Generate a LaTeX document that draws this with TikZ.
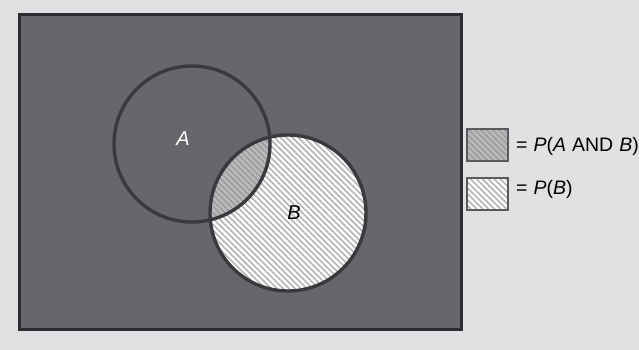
\documentclass[tikz,border=0pt]{standalone}
\usepackage{fontspec}
\setmainfont{Liberation Sans}
\usetikzlibrary{patterns.meta}
\definecolor{bgc}{HTML}{E1E1E3}
\definecolor{boxc}{HTML}{67676B}
\definecolor{edgec}{HTML}{2C2C30}
\definecolor{circc}{HTML}{3A3A3E}
\definecolor{hatchB}{HTML}{B4B4B6}
\definecolor{interbg}{HTML}{BBBBBD}
\definecolor{interln}{HTML}{9C9C9E}
\definecolor{legedge}{HTML}{5A5A5E}
\tikzset{
  hatchwhite/.style={preaction={fill=white},pattern={Lines[angle=-45,distance=4.2pt,line width=1.6pt]},pattern color=hatchB},
  hatchgray/.style={preaction={fill=interbg},pattern={Lines[angle=-45,distance=4.2pt,line width=1.6pt]},pattern color=interln},
  ring/.style={draw=circc,line width=3.4pt},
  legbox/.style={draw=legedge,line width=1.5pt,minimum width=41pt,minimum height=32pt,inner sep=0pt},
  lbl/.style={font=\fontsize{20}{22}\selectfont\itshape,text=white,inner sep=0pt},
  legtxt/.style={font=\fontsize{19.5}{22}\selectfont,anchor=west,inner sep=0pt}
}
\begin{document}
\begin{tikzpicture}[x=1pt,y=-1pt]
\useasboundingbox (0,0) rectangle (639,350);
\clip (0,0) rectangle (639,350);
\fill[bgc] (0,0) rectangle (639,350);
\draw[edgec,line width=3.4pt,fill=boxc] (19.5,14.5) rectangle (461.5,329.5);
\coordinate (cA) at (192,144);
\coordinate (cB) at (288,213);
\fill[hatchwhite] (cB) circle (78);
\begin{scope}
\clip (cB) circle (78);
\fill[hatchgray] (cA) circle (78);
\end{scope}
\draw[ring] (cA) circle (78);
\draw[ring] (cB) circle (78);
\node[lbl] (la) at (183,139) {A};
\node[lbl,text=black] (lb) at (294,213) {B};
\node[legbox,hatchgray] (k1) at (487.5,145) {};
\node[legbox,hatchwhite] (k2) at (487.5,194) {};
\node[legtxt] (t1) at (516,146) {=\hspace{6pt}\textit{P}(\textit{A}\hspace{6pt}AND\hspace{6pt}\textit{B})};
\node[legtxt] (t2) at (516,189) {=\hspace{6pt}\textit{P}(\textit{B})};
\end{tikzpicture}
\end{document}
